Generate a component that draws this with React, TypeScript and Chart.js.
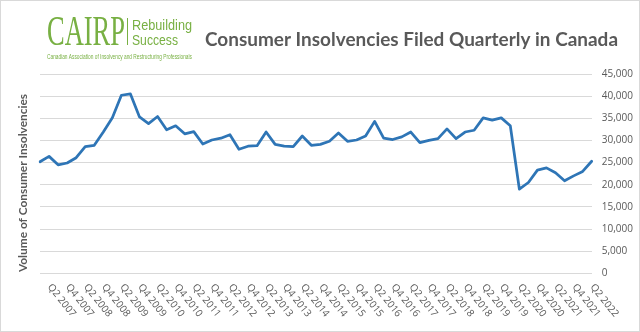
import React, { useEffect, useRef } from 'react';
import { Chart, registerables } from 'chart.js';

Chart.register(...registerables);

const quarters = [
  'Q1 2007', 'Q2 2007', 'Q3 2007', 'Q4 2007',
  'Q1 2008', 'Q2 2008', 'Q3 2008', 'Q4 2008',
  'Q1 2009', 'Q2 2009', 'Q3 2009', 'Q4 2009',
  'Q1 2010', 'Q2 2010', 'Q3 2010', 'Q4 2010',
  'Q1 2011', 'Q2 2011', 'Q3 2011', 'Q4 2011',
  'Q1 2012', 'Q2 2012', 'Q3 2012', 'Q4 2012',
  'Q1 2013', 'Q2 2013', 'Q3 2013', 'Q4 2013',
  'Q1 2014', 'Q2 2014', 'Q3 2014', 'Q4 2014',
  'Q1 2015', 'Q2 2015', 'Q3 2015', 'Q4 2015',
  'Q1 2016', 'Q2 2016', 'Q3 2016', 'Q4 2016',
  'Q1 2017', 'Q2 2017', 'Q3 2017', 'Q4 2017',
  'Q1 2018', 'Q2 2018', 'Q3 2018', 'Q4 2018',
  'Q1 2019', 'Q2 2019', 'Q3 2019', 'Q4 2019',
  'Q1 2020', 'Q2 2020', 'Q3 2020', 'Q4 2020',
  'Q1 2021', 'Q2 2021', 'Q3 2021', 'Q4 2021',
  'Q1 2022', 'Q2 2022',
];

const insolvencies = [
  25200, 26400, 24500, 24900,
  26100, 28600, 28900, 31900,
  35100, 40200, 40500, 35300,
  33800, 35400, 32400, 33300,
  31500, 32000, 29200, 30100,
  30500, 31300, 28000, 28700,
  28800, 31900, 29100, 28700,
  28600, 31000, 28900, 29100,
  29800, 31700, 29800, 30100,
  31000, 34300, 30500, 30200,
  30800, 31900, 29500, 30000,
  30400, 32600, 30400, 31900,
  32300, 35100, 34600, 35100,
  33300, 19000, 20500, 23300,
  23800, 22700, 20900, 22000,
  23000, 25300,
];

const yMin = 0;
const yMax = 45000;
const yStep = 5000;

const titleText = 'Consumer Insolvencies Filed Quarterly in Canada';
const yAxisTitle = 'Volume of Consumer Insolvencies';
const logoMain = 'CAIRP';
const logoLine1 = 'Rebuilding';
const logoLine2 = 'Success';
const logoSub = 'Canadian Association of Insolvency and Restructuring Professionals';

const GRAY = '#595959';
const GREEN = '#78b043';
const LINE = '#2e75b6';
const GRID = '#d9d9d9';

function fitText(
  ctx: CanvasRenderingContext2D,
  text: string,
  x: number,
  y: number,
  width: number,
  font: string,
  color: string
) {
  ctx.save();
  ctx.font = font;
  ctx.fillStyle = color;
  ctx.textAlign = 'left';
  ctx.textBaseline = 'alphabetic';
  const w = ctx.measureText(text).width;
  ctx.translate(x, y);
  ctx.scale(width / w, 1);
  ctx.fillText(text, 0, 0);
  ctx.restore();
}

const decor = {
  id: 'decor',
  afterDraw(chart: any) {
    const ctx: CanvasRenderingContext2D = chart.ctx;
    const xs = chart.scales.x;
    const area = chart.chartArea;
    ctx.save();

    // frame
    ctx.strokeStyle = GRID;
    ctx.lineWidth = 1;
    ctx.strokeRect(0.5, 0.5, chart.width - 1, chart.height - 1);

    // logo
    fitText(ctx, logoMain, 47, 45, 78, '42px "Liberation Serif"', GREEN);
    ctx.fillStyle = GREEN;
    ctx.fillRect(127, 18, 1, 27);
    fitText(ctx, logoLine1, 132, 30, 60, '14px "Liberation Sans"', GREEN);
    fitText(ctx, logoLine2, 132, 45, 46, '14px "Liberation Sans"', GREEN);
    fitText(ctx, logoSub, 47, 59, 145, '7px "Liberation Sans"', GREEN);

    // title
    fitText(ctx, titleText, 205, 46, 413, 'bold 18.5px Lato', GRAY);

    // y axis title
    ctx.save();
    ctx.font = 'bold 12px Lato';
    const tw = ctx.measureText(yAxisTitle).width;
    ctx.translate(27, 272);
    ctx.rotate(-Math.PI / 2);
    ctx.scale(178 / tw, 1);
    ctx.fillStyle = GRAY;
    ctx.textAlign = 'left';
    ctx.textBaseline = 'alphabetic';
    ctx.fillText(yAxisTitle, 0, 0);
    ctx.restore();

    // x labels
    ctx.font = '10px "Open Sans"';
    ctx.fillStyle = GRAY;
    ctx.textAlign = 'left';
    ctx.textBaseline = 'middle';
    quarters.forEach((q, i) => {
      if (i % 2 === 0) return;
      const x = xs.getPixelForValue(i);
      ctx.save();
      ctx.translate(x + 0.5, area.bottom + 12);
      ctx.rotate(0.9);
      ctx.fillText(q, 0, 0);
      ctx.restore();
    });

    ctx.restore();
  },
};

export default function App() {
  const ref = useRef<HTMLCanvasElement>(null);

  useEffect(() => {
    document.body.style.margin = '0';
    const canvas = ref.current!;
    const chart = new Chart(canvas, {
      type: 'line',
      data: {
        labels: quarters,
        datasets: [
          {
            data: insolvencies,
            borderColor: LINE,
            borderWidth: 2.75,
            pointRadius: 0,
            tension: 0,
            fill: false,
            borderJoinStyle: 'round',
            borderCapStyle: 'round',
          },
        ],
      },
      options: {
        responsive: false,
        animation: false,
        layout: { padding: { left: 40, top: 74, right: 0, bottom: 58.7 } },
        plugins: {
          legend: { display: false },
          title: { display: false },
          tooltip: { enabled: false },
        },
        scales: {
          x: {
            display: false,
            offset: false,
          },
          y: {
            position: 'right',
            min: yMin,
            max: yMax,
            border: { display: false },
            grid: { color: GRID, lineWidth: 1, drawTicks: false },
            ticks: {
              stepSize: yStep,
              padding: 10,
              color: GRAY,
              font: { family: '"Open Sans"', size: 10 },
              callback: (v: any) => Number(v).toLocaleString('en-US'),
            },
            afterFit: (scale: any) => {
              scale.width = 48.3;
            },
          },
        },
      },
      plugins: [decor],
    });
    return () => chart.destroy();
  }, []);

  return (
    <div style={{ width: 640, height: 332, background: '#fff' }}>
      <canvas ref={ref} width={640} height={332} style={{ display: 'block' }} />
    </div>
  );
}
